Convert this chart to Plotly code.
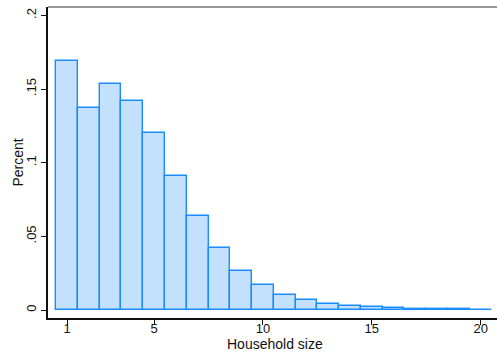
import plotly.graph_objects as go

household_size = list(range(1, 21))
percent = [0.169, 0.137, 0.1535, 0.142, 0.1204, 0.0912, 0.0638, 0.0421, 0.0265, 0.0172,
           0.0104, 0.0068, 0.0041, 0.0027, 0.0020, 0.0014, 0.0009, 0.0007, 0.0005, 0.0003]
x_ticks = [1, 5, 10, 15, 20]
y_ticks = [0, 0.05, 0.1, 0.15, 0.2]
y_tick_labels = ["0", ".05", ".1", ".15", ".2"]

fig = go.Figure()
fig.add_trace(go.Bar(
    x=household_size, y=percent, width=1,
    marker=dict(color="#c3e0fd", line=dict(color="#1a8cff", width=1.4)),
))

family = "Liberation Sans, Arial, sans-serif"
tick_font = dict(family=family, size=13, color="#111")
title_font = dict(family=family, size=14, color="#111")
fig.update_layout(
    width=497, height=352,
    margin=dict(l=48, r=0, t=7, b=34),
    plot_bgcolor="white", paper_bgcolor="white",
    showlegend=False, bargap=0,
    font=tick_font,
    xaxis=dict(
        range=[0.127, 20.75], tickvals=x_ticks, ticktext=[str(v) for v in x_ticks],
        ticks="outside", ticklen=5, tickcolor="#111", tickwidth=1,
        ticklabelstandoff=-7,
        showline=True, linecolor="#111", linewidth=1.5, showgrid=False, zeroline=False,
        tickfont=tick_font,
    ),
    yaxis=dict(
        range=[-0.0054, 0.2057], tickvals=y_ticks, ticktext=y_tick_labels,
        tickangle=-90,
        ticks="outside", ticklen=5, tickcolor="#111", tickwidth=1,
        showline=True, linecolor="#111", linewidth=1.5, showgrid=False, zeroline=False,
        tickfont=tick_font,
    ),
    shapes=[dict(type="line", xref="paper", yref="paper", x0=0, x1=1, y0=1, y1=1,
                 line=dict(color="#777", width=1.5))],
    annotations=[
        dict(text="Household size", xref="paper", yref="paper", x=0.5, y=0,
             xshift=2, yshift=-26, xanchor="center", yanchor="middle",
             showarrow=False, font=title_font),
        dict(text="Percent", xref="paper", yref="paper", x=0, y=0.5,
             xshift=-31, textangle=-90, xanchor="center", yanchor="middle",
             showarrow=False, font=title_font),
    ],
)

fig.write_html("out.html")
